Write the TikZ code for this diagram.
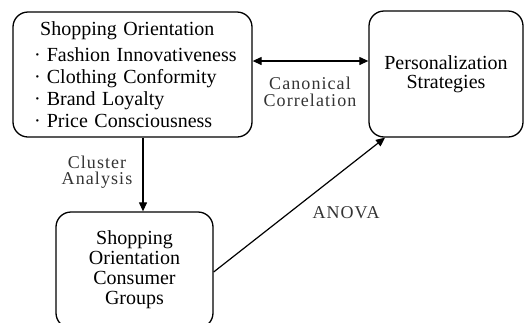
\documentclass[tikz,border=0pt]{standalone}
\usepackage{fontspec}
\setmainfont{Liberation Serif}
\newfontfamily\boxfont{Liberation Serif}[WordSpace=1.3]
\newfontfamily\lblfont{Liberation Serif}[LetterSpace=6,WordSpace=1.6]
\usetikzlibrary{arrows.meta}
\begin{document}
\begin{tikzpicture}[x=1pt,y=-1pt,
  box/.style={draw, line width=1.3pt, rounded corners=15pt, inner sep=0pt},
  boxtxt/.style={font=\boxfont\fontsize{20}{20}\selectfont},
  line/.style={boxtxt, anchor=base west, inner sep=0pt},
  lbl/.style={font=\lblfont\fontsize{18}{16.5}\selectfont, text=black!80, align=center, inner sep=0pt},
  conn/.style={line width=1.2pt, -{Triangle[length=9pt,width=8pt]}},
  dconn/.style={line width=1.2pt, {Triangle[length=9pt,width=8pt]}-{Triangle[length=9pt,width=8pt]}}]
\useasboundingbox (0,0) rectangle (525,322);
\node[box, minimum width=239pt, minimum height=125pt] (A) at (132.5,74.5) {};
\node[line] (t0) at (40,35.5) {Shopping Orientation};
\node[line] (t1) at (34,61) {·\hspace{6pt}Fashion Innovativeness};
\node[line] (t2) at (34,83.2) {·\hspace{6pt}Clothing Conformity};
\node[line] (t3) at (34,105.4) {·\hspace{6pt}Brand Loyalty};
\node[line] (t4) at (34,127.6) {·\hspace{6pt}Price Consciousness};
\node[box, minimum width=154pt, minimum height=126pt, boxtxt, align=center] (B) at (446,74) {Personalization\\[-1pt]Strategies};
\node[box, minimum width=157pt, minimum height=116pt, boxtxt, align=center] (C) at (134.5,270) {Shopping\\Orientation\\Consumer\\Groups};
\coordinate (dx) at (143,0);
\coordinate (ax) at (385,0);
\draw[dconn] ([yshift=13.5pt]A.east) -- ([yshift=13pt]B.west);
\draw[conn] (A.south -| dx) -- (C.north -| dx);
\draw[conn] ([yshift=-2pt]C.east) -- (B.south -| ax);
\node[lbl] (cc) at (310,92) {Canonical\\Correlation};
\node[lbl] (ca) at (97,172) {Cluster\\Analysis};
\node[lbl] (an) at (346,213) {ANOVA};
\end{tikzpicture}
\end{document}
